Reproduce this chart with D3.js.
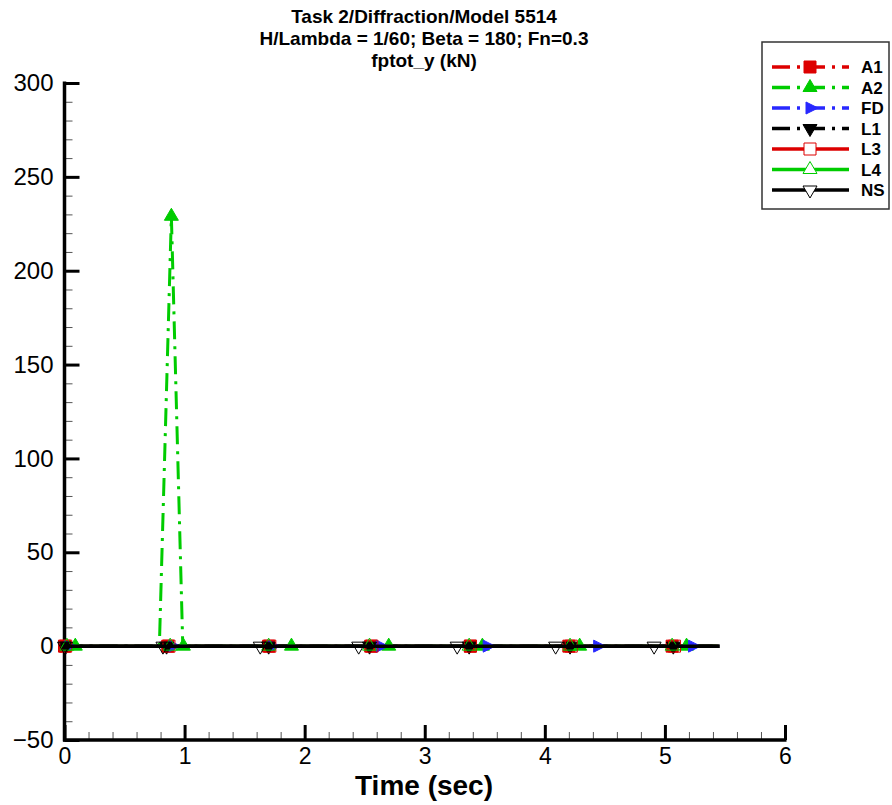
<!DOCTYPE html>
<html>
<head>
<meta charset="utf-8">
<script src="https://cdn.jsdelivr.net/npm/d3@7"></script>
<style>
  html, body { margin: 0; padding: 0; background: #fff; }
  svg { display: block; }
  text { font-family: "Liberation Sans", Arial, sans-serif; }
</style>
</head>
<body>
<svg id="chart" width="892" height="805"></svg>
<script>
// ---------------- data ----------------
const titleLines = ["Task 2/Diffraction/Model 5514", "H/Lambda = 1/60; Beta = 180; Fn=0.3", "fptot_y (kN)"];
const xLabel = "Time (sec)";
const xTicks = [0, 1, 2, 3, 4, 5, 6];
const yTicks = [-50, 0, 50, 100, 150, 200, 250, 300];
const seriesNames = ["A1", "A2", "FD", "L1", "L3", "L4", "NS"];

// line points [time, value]
const lineA1 = [[0, 0], [5.44, 0]];
const lineA2 = [[0, 0], [0.79, 0], [0.89, 229], [0.985, 0], [5.44, 0]];
const lineFD = [[0, 0], [5.44, 0]];
const lineL1 = [[0, 0], [5.44, 0]];
const lineL3 = [[0, 0], [5.44, 0]];
const lineL4 = [[0, 0], [5.44, 0]];
const lineNS = [[0, 0], [5.455, 0]];

// marker points [time, value]
const markA1 = [[0.00, 0], [0.86, 0], [1.70, 0], [2.55, 0], [3.38, 0], [4.20, 0], [5.06, 0]];
const markA2 = [[0.09, 0], [0.89, 229], [0.99, 0], [1.89, 0], [2.70, 0], [3.48, 0], [4.29, 0], [5.18, 0]];
const markFD = [[0.03, 0], [0.90, 0], [1.73, 0], [2.63, 0], [3.52, 0], [4.44, 0], [5.23, 0]];
const markL1 = [[0.01, 0], [0.85, 0], [1.70, 0], [2.54, 0], [3.37, 0], [4.21, 0], [5.07, 0]];
const markL3 = [[0.01, 0], [0.87, 0], [1.71, 0], [2.56, 0], [3.38, 0], [4.22, 0], [5.08, 0]];
const markL4 = [[0.02, 0], [0.88, 0], [1.70, 0], [2.54, 0], [3.37, 0], [4.21, 0], [5.06, 0]];
const markNS = [[0.00, 0], [0.82, 0], [1.63, 0], [2.45, 0], [3.27, 0], [4.09, 0], [4.91, 0]];

// ---------------- styles ----------------
const RED = "#dd0000", GREEN = "#00cc00", BLUE = "#2828ff", BLACK = "#000000";
const DASH = "18,7,3,7";
const series = [
  { name: "A1", line: lineA1, marks: markA1, color: RED,   dash: DASH, shape: "square",   fill: true },
  { name: "A2", line: lineA2, marks: markA2, color: GREEN, dash: DASH, shape: "triUp",    fill: true },
  { name: "FD", line: lineFD, marks: markFD, color: BLUE,  dash: DASH, shape: "triRight", fill: true },
  { name: "L1", line: lineL1, marks: markL1, color: BLACK, dash: DASH, shape: "triDown",  fill: true },
  { name: "L3", line: lineL3, marks: markL3, color: RED,   dash: null, shape: "square",   fill: false },
  { name: "L4", line: lineL4, marks: markL4, color: GREEN, dash: null, shape: "triUp",    fill: false },
  { name: "NS", line: lineNS, marks: markNS, color: BLACK, dash: null, shape: "triDown",  fill: false }
];

function shapePath(shape) {
  const s = 6;      // half square
  const w = 7, h = 12; // triangle half-width, height (centroid-centred)
  switch (shape) {
    case "square": return `M${-s},${-s}H${s}V${s}H${-s}Z`;
    case "triUp": return `M0,${-h * 2 / 3}L${w},${h / 3}L${-w},${h / 3}Z`;
    case "triDown": return `M0,${h * 2 / 3}L${w},${-h / 3}L${-w},${-h / 3}Z`;
    case "triRight": return `M${h * 2 / 3},0L${-h / 3},${w - 1}L${-h / 3},${-(w - 1)}Z`;
  }
}

// ---------------- chart ----------------
const svg = d3.select("#chart");
svg.append("rect").attr("width", 892).attr("height", 805).attr("fill", "#fff");

const x = d3.scaleLinear().domain([0, 6]).range([64.5, 785]);
const y = d3.scaleLinear().domain([-50, 300]).range([740, 83]);

// title
const title = svg.append("text").attr("text-anchor", "middle")
  .attr("font-weight", "bold").attr("font-size", 19).attr("fill", "#000");
const baselines = [23, 45, 67];
titleLines.forEach((t, i) => {
  title.append("tspan").attr("x", 424).attr("y", baselines[i]).text(t);
});

// minor ticks
const xMinor = d3.range(0, 6.001, 0.2).filter(v => Math.abs(v - Math.round(v)) > 1e-6);
const yMinor = d3.range(-50, 300.001, 10).filter(v => Math.abs(v % 50) > 1e-6);

const gxMinor = svg.append("g").attr("transform", `translate(0,${y(-50)})`)
  .call(d3.axisBottom(x).tickValues(xMinor).tickSize(-8).tickSizeOuter(0).tickFormat(""));
gxMinor.select(".domain").remove();
gxMinor.selectAll("line").attr("stroke", "#555").attr("stroke-width", 1);

const gyMinor = svg.append("g").attr("transform", `translate(${x(0)},0)`)
  .call(d3.axisLeft(y).tickValues(yMinor).tickSize(-8).tickSizeOuter(0).tickFormat(""));
gyMinor.select(".domain").remove();
gyMinor.selectAll("line").attr("stroke", "#555").attr("stroke-width", 1);

// major axes
const gx = svg.append("g").attr("transform", `translate(0,${y(-50)})`)
  .call(d3.axisBottom(x).tickValues(xTicks).tickSize(-15).tickSizeOuter(0).tickPadding(8).tickFormat(d3.format("d")));
gx.select(".domain").attr("stroke", "#000").attr("stroke-width", 3.5).attr("d", `M${x(0) - 1.5},0H${x(6) + 1.5}`);
gx.selectAll(".tick line").attr("stroke", "#000").attr("stroke-width", 3);
gx.selectAll(".tick text").attr("font-size", 23).attr("fill", "#000")
  .attr("font-family", "'Liberation Sans', Arial, sans-serif");

const gy = svg.append("g").attr("transform", `translate(${x(0)},0)`)
  .call(d3.axisLeft(y).tickValues(yTicks).tickSize(-15).tickSizeOuter(0).tickPadding(11).tickFormat(d3.format("d")));
gy.select(".domain").attr("stroke", "#000").attr("stroke-width", 3.5).attr("d", `M0,${y(300) - 1.5}V${y(-50) + 1.5}`);
gy.selectAll(".tick line").attr("stroke", "#000").attr("stroke-width", 3);
gy.selectAll(".tick text").attr("font-size", 24).attr("fill", "#000")
  .attr("font-family", "'Liberation Sans', Arial, sans-serif");

// axis title
svg.append("text").attr("x", 424).attr("y", 795).attr("text-anchor", "middle")
  .attr("font-weight", "bold").attr("font-size", 28).attr("fill", "#000").text(xLabel);

// series
const line = d3.line().x(d => x(d[0])).y(d => y(d[1]));
const plot = svg.append("g");
series.forEach(s => {
  plot.append("path").datum(s.line).attr("d", line)
    .attr("fill", "none").attr("stroke", s.color)
    .attr("stroke-width", s.name === "NS" ? 3.5 : 3)
    .attr("stroke-dasharray", s.dash).attr("stroke-linejoin", "round");
});
series.forEach(s => {
  plot.selectAll(null).data(s.marks).enter().append("path")
    .attr("transform", d => `translate(${x(d[0])},${y(d[1])})`)
    .attr("d", shapePath(s.shape))
    .attr("fill", s.fill ? s.color : "none")
    .attr("stroke", s.color).attr("stroke-width", 1);
});
// NS line on top
plot.append("path").datum(lineNS).attr("d", line)
  .attr("fill", "none").attr("stroke", BLACK).attr("stroke-width", 3.5);

// legend
const lg = svg.append("g");
lg.append("rect").attr("x", 762).attr("y", 42).attr("width", 127).attr("height", 167)
  .attr("fill", "#fff").attr("stroke", "#333").attr("stroke-width", 1.5);
const rowY = d3.scalePoint().domain(seriesNames).range([67, 190]);
series.forEach(s => {
  const yy = rowY(s.name);
  lg.append("line").attr("x1", 772).attr("x2", 849).attr("y1", yy).attr("y2", yy)
    .attr("stroke", s.color).attr("stroke-width", 3.5).attr("stroke-dasharray", s.dash);
  lg.append("path").attr("transform", `translate(810,${yy})`).attr("d", shapePath(s.shape))
    .attr("fill", s.fill ? s.color : "#fff").attr("stroke", s.color).attr("stroke-width", 1);
  lg.append("text").attr("x", 861).attr("y", yy + 6).attr("font-weight", "bold")
    .attr("font-size", 17).attr("fill", "#000").text(s.name);
});
</script>
</body>
</html>
